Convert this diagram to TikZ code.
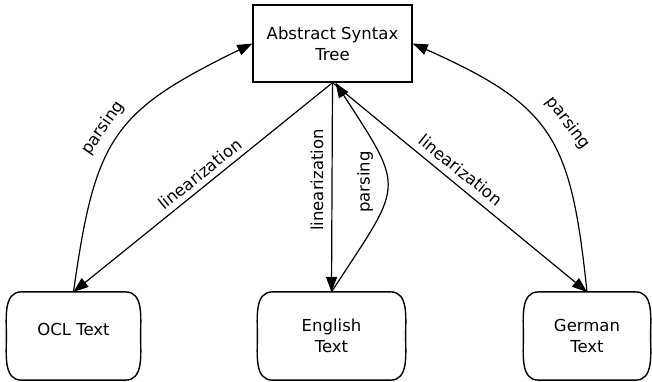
\documentclass[tikz,border=0pt]{standalone}
\usepackage{fontspec}
\setmainfont{DejaVu Sans}
\usetikzlibrary{positioning,arrows.meta}

\newcommand{\textshape}[1]{%
  \draw[line width=1.4pt] ([xshift=15pt]#1.north west) -- ([xshift=-15pt]#1.north east)
    to[out=0, in=90] (#1.east) to[out=-90, in=0] ([xshift=-15pt]#1.south east)
    -- ([xshift=15pt]#1.south west) to[out=180, in=-90] (#1.west)
    to[out=90, in=180] cycle;}

\begin{document}
\begin{tikzpicture}[x=1pt, y=-1pt, >={Triangle[length=15pt,width=11pt]}, line width=1.2pt,
  font=\fontsize{16.5}{21}\selectfont,
  astbox/.style={rectangle, draw, line width=1.4pt, fill=white, minimum width=159pt, minimum height=77pt, align=center, inner sep=0pt},
  textbox/.style={rectangle, minimum height=87pt, align=center, inner sep=0pt},
  lbl/.style={inner sep=1pt}]

\useasboundingbox (0,0) rectangle (652,381);

% 
\node[astbox] (ast) at (332.5,43.5) {Abstract Syntax\\Tree};
\node[textbox, minimum width=133pt, text depth=14pt] (ocl) at (73.5,336) {OCL Text};
\node[textbox, minimum width=147pt] (eng) at (331.5,336) {English\\Text};
\node[textbox, minimum width=126pt] (ger) at (587,336) {German\\Text};

% 
\textshape{ocl}
\textshape{eng}
\textshape{ger}

% 
\draw[->] (ast.south) -- (ocl.north);
\draw[->] (ocl.north) to[out=82, in=-154, looseness=1.3] (ast.west);
\draw[->] (ast.south) -- (eng.north);
\draw[->] (eng.north) to[out=57, in=-57, looseness=1.6] ([xshift=3pt]ast.south);
\draw[->] (ast.south) -- (ger.north);
\draw[->] (ger.north) to[out=96, in=-24, looseness=1.3] (ast.east);

% 
\node[lbl, rotate=39] (linocl) at (200,174) {linearization};
\node[lbl, rotate=55] (parocl) at (103,128) {parsing};
\node[lbl, rotate=90] (lineng) at (317,180) {linearization};
\node[lbl, rotate=90] (pareng) at (365,182) {parsing};
\node[lbl, rotate=-39] (linger) at (461,170) {linearization};
\node[lbl, rotate=-53] (parger) at (568,123) {parsing};

\end{tikzpicture}
\end{document}
